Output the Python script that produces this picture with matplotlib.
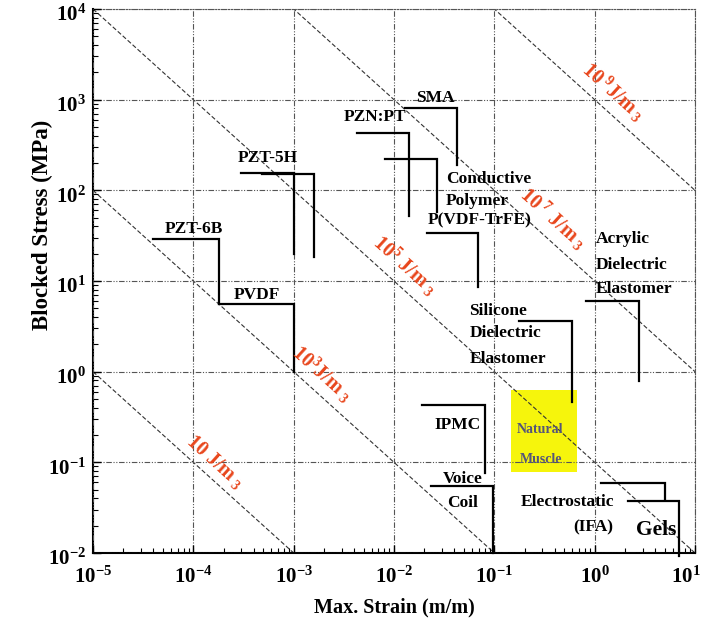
import numpy as np
import matplotlib
matplotlib.use("Agg")
import matplotlib.pyplot as plt
from matplotlib.patches import Rectangle
from matplotlib.transforms import ScaledTranslation

plt.rcParams['font.family'] = ['Liberation Serif', 'DejaVu Serif']
plt.rcParams['font.weight'] = 'bold'
plt.rcParams['mathtext.fontset'] = 'custom'
plt.rcParams['mathtext.rm'] = 'Liberation Serif:bold'
plt.rcParams['mathtext.it'] = 'Liberation Serif:italic:bold'
plt.rcParams['mathtext.bf'] = 'Liberation Serif:bold'

# energy density lines (J/m^3), stress in MPa
energy_density = [1e1, 1e3, 1e5, 1e7, 1e9]
energy_labels = [r"10 J/m$_{\ 3}$", r"10$^{3}$J/m$_{\ 3}$", r"10$^{5}$ J/m$_{\ 3}$",
                 r"10$^{\ 7}$ J/m$_{\ 3}$", r"10$^{\ 9}$J/m$_{\ 3}$"]
energy_label_x = [1.64e-4, 1.92e-3, 0.0129, 0.386, 1.53]
energy_label_y = [0.101, 0.97, 15.1, 49.7, 1217]

# actuator envelopes: max strain (m/m) vs blocked stress (MPa)
pzt6b_strain = [4.0e-5, 1.82e-4, 1.82e-4]
pzt6b_stress = [28.9, 28.9, 5.6]
pvdf_strain = [1.82e-4, 1.0e-3, 1.0e-3]
pvdf_stress = [5.6, 5.6, 1.0]
pzt5h_a_strain = [3.0e-4, 1.0e-3, 1.0e-3]
pzt5h_a_stress = [155, 155, 20]
pzt5h_b_strain = [4.8e-4, 1.61e-3, 1.61e-3]
pzt5h_b_stress = [151, 151, 18.6]
pznpt_strain = [4.26e-3, 0.0142, 0.0142]
pznpt_stress = [432, 432, 52]
sma_strain = [0.0129, 0.0423, 0.0423]
sma_stress = [817, 817, 190]
cond_poly_strain = [8.15e-3, 0.0271, 0.0271]
cond_poly_stress = [224, 224, 58]
pvdf_trfe_strain = [0.0212, 0.0695, 0.0695]
pvdf_trfe_stress = [33.6, 33.6, 8.55]
acrylic_strain = [0.822, 2.74, 2.74]
acrylic_stress = [6.08, 6.08, 0.798]
silicone_strain = [0.178, 0.593, 0.593]
silicone_stress = [3.66, 3.66, 0.468]
ipmc_strain = [0.0192, 0.081, 0.081]
ipmc_stress = [0.43, 0.43, 0.077]
voice_coil_strain = [0.0233, 0.0966, 0.0966]
voice_coil_stress = [0.055, 0.055, 0.01]
ifa_strain = [1.153, 5.05, 5.05]
ifa_stress = [0.059, 0.059, 0.038]
gels_strain = [2.14, 6.95, 6.95]
gels_stress = [0.0373, 0.0373, 0.0092]

# natural muscle region
muscle_strain = [0.146, 0.664]
muscle_stress = [0.0792, 0.63]

fig = plt.figure(figsize=(7.05, 6.28), dpi=100)
ax = fig.add_axes([93 / 705, 1 - 553 / 628, 602 / 705, 544 / 628])
ax.set_xscale('log')
ax.set_yscale('log')
ax.set_xlim(1e-5, 10)
ax.set_ylim(1e-2, 1e4)

grid_ls = (0, (5, 1.5, 1, 1.5, 1, 1.5))
ax.grid(True, which='major', color='#555555', linestyle=grid_ls, linewidth=0.8, zorder=1)
ax.set_axisbelow(False)

ax.add_patch(Rectangle((muscle_strain[0], muscle_stress[0]),
                       muscle_strain[1] - muscle_strain[0],
                       muscle_stress[1] - muscle_stress[0],
                       facecolor='#f6f50c', edgecolor='none', zorder=0.5))

strain = np.logspace(-5, 1, 200)
for e in energy_density:
    ax.plot(strain, e / 1e6 / strain, color='#333333', linewidth=0.8,
            linestyle=(0, (4, 2)), zorder=2)
for lab, lx, ly in zip(energy_labels, energy_label_x, energy_label_y):
    ax.text(lx, ly, lab, color='#e8461c', fontsize=14.5, rotation=-42,
            ha='center', va='center', rotation_mode='anchor', zorder=4)

steps = [(pzt6b_strain, pzt6b_stress), (pvdf_strain, pvdf_stress),
         (pzt5h_a_strain, pzt5h_a_stress), (pzt5h_b_strain, pzt5h_b_stress),
         (pznpt_strain, pznpt_stress), (sma_strain, sma_stress),
         (cond_poly_strain, cond_poly_stress), (pvdf_trfe_strain, pvdf_trfe_stress),
         (acrylic_strain, acrylic_stress), (silicone_strain, silicone_stress),
         (ipmc_strain, ipmc_stress), (voice_coil_strain, voice_coil_stress),
         (ifa_strain, ifa_stress), (gels_strain, gels_stress)]
for sx, sy in steps:
    ax.plot(sx, sy, color='black', linewidth=1.6, solid_joinstyle='miter',
            zorder=3, clip_on=False)

fs = 12.5
labels = [("PZT-6B", 1.02e-4, 37.5, 'center'), ("PZT-5H", 5.56e-4, 228, 'center'),
          ("PVDF", 4.3e-4, 7.03, 'center'), ("PZN:PT", 6.5e-3, 645, 'center'),
          ("SMA", 0.0257, 1044, 'center'), ("Conductive", 0.033, 134, 'left'),
          ("Polymer", 0.033, 76.4, 'left'), ("P(VDF-TrFE)", 0.0721, 47.2, 'center'),
          ("Acrylic", 1.035, 29.1, 'left'), ("Dielectric", 1.035, 15.1, 'left'),
          ("Elastomer", 1.035, 8.18, 'left'), ("Silicone", 0.0565, 4.72, 'left'),
          ("Dielectric", 0.0565, 2.66, 'left'), ("Elastomer", 0.0565, 1.37, 'left'),
          ("IPMC", 0.0426, 0.259, 'center'), ("Voice", 0.0489, 0.0658, 'center'),
          ("Coil", 0.0478, 0.0357, 'center'), ("Electrostatic", 0.532, 0.0366, 'center'),
          ("(IFA)", 0.966, 0.019, 'center')]
for txt, tx, ty, ha in labels:
    ax.text(tx, ty, txt, fontsize=fs, ha=ha, va='center', zorder=4)
ax.text(4.1, 0.018, "Gels", fontsize=15.5, ha='center', va='center', zorder=4)
ax.text(0.286, 0.228, "Natural", fontsize=10, color='#55557a', ha='center', va='center', zorder=4)
ax.text(0.29, 0.107, "Muscle", fontsize=10, color='#55557a', ha='center', va='center', zorder=4)

xt = [1e-5, 1e-4, 1e-3, 1e-2, 1e-1, 1e0, 1e1]
ax.set_xticks(xt, [r"10$^{%d}$" % int(np.log10(v)) for v in xt])
yt = [1e-2, 1e-1, 1e0, 1e1, 1e2, 1e3, 1e4]
ax.set_yticks(yt, [r"10$^{%d}$" % int(np.log10(v)) for v in yt])
ax.tick_params(which='both', direction='in', top=False, right=False, labelsize=15)
ax.tick_params(which='major', length=6, width=1)
ax.tick_params(which='minor', length=3.5, width=0.8)
ax.tick_params(axis='x', pad=10)
ax.tick_params(axis='y', pad=5)
shift = ScaledTranslation(0, -4 / 100, fig.dpi_scale_trans)
for lab in ax.get_yticklabels():
    lab.set_transform(lab.get_transform() + shift)
# keep the last x label inside the figure
last = ax.get_xticklabels()[-1]
last.set_transform(last.get_transform() + ScaledTranslation(-9 / 100, 0, fig.dpi_scale_trans))

for side in ('left', 'bottom'):
    ax.spines[side].set_linewidth(1.5)
for side in ('top', 'right'):
    ax.spines[side].set_linestyle(grid_ls)
    ax.spines[side].set_linewidth(0.8)
    ax.spines[side].set_color('#555555')

fig.text(394 / 705, 1 - 607 / 628, "Max. Strain (m/m)", fontsize=14.5, ha='center', va='center')
fig.text(42 / 705, 1 - 225 / 628, "Blocked Stress (MPa)", fontsize=16.5, rotation=90,
         ha='center', va='center')

fig.savefig("out.png", dpi=100, facecolor='white')
